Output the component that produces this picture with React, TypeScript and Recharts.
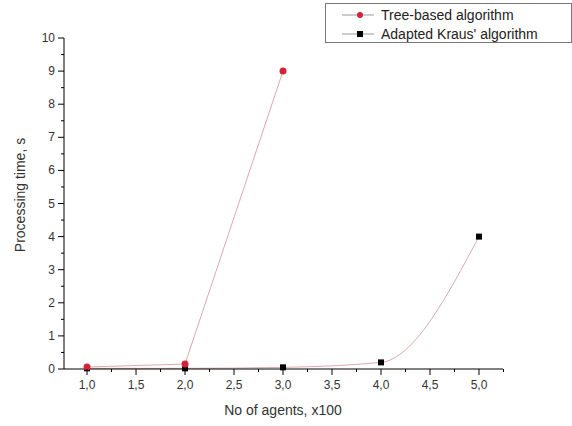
import { LineChart, Line, XAxis, YAxis, Label } from "recharts";

const agents = [1, 2, 3, 4, 5];
const treeTimes = [0.06, 0.15, 9.0, null, null];
const krausTimes = [0.02, 0.02, 0.05, 0.2, 4.0];

const xTicks = [1, 1.25, 1.5, 1.75, 2, 2.25, 2.5, 2.75, 3, 3.25, 3.5, 3.75, 4, 4.25, 4.5, 4.75, 5, 5.25];
const yTicks = [0, 0.5, 1, 1.5, 2, 2.5, 3, 3.5, 4, 4.5, 5, 5.5, 6, 6.5, 7, 7.5, 8, 8.5, 9, 9.5, 10];

const seriesNames = ["Tree-based algorithm", "Adapted Kraus' algorithm"];

const data = agents.map((a, i) => ({
  agents: a,
  tree: treeTimes[i],
  kraus: krausTimes[i],
}));

const FONT = "'Liberation Sans', Arial, sans-serif";
const LINE_COLOR = "#dcaaaa";
const RED = "#d3233a";

const XTick = (props: any) => {
  const { x, y, payload } = props;
  const v = payload.value;
  const major = Math.abs(v * 2 - Math.round(v * 2)) < 1e-6;
  return (
    <g>
      <line x1={x} x2={x} y1={y} y2={y + (major ? 6 : 3)} stroke="#000" />
      {major && (
        <text x={x} y={y + 16} textAnchor="middle" dominantBaseline="central" fontSize={12} fill="#333" fontFamily={FONT}>
          {v.toFixed(1).replace(".", ",")}
        </text>
      )}
    </g>
  );
};

const YTick = (props: any) => {
  const { x, y, payload } = props;
  const v = payload.value;
  const major = Number.isInteger(v);
  return (
    <g>
      <line x1={x - (major ? 6 : 3)} x2={x} y1={y} y2={y} stroke="#000" />
      {major && (
        <text x={x - 9} y={y} textAnchor="end" dominantBaseline="central" fontSize={12} fill="#333" fontFamily={FONT}>
          {v}
        </text>
      )}
    </g>
  );
};

const RedDot = (props: any) => {
  const { cx, cy, value } = props;
  if (value == null) return null;
  return <circle cx={cx} cy={cy} r={3.5} fill={RED} stroke="none" />;
};

const BlackSquare = (props: any) => {
  const { cx, cy, value } = props;
  if (value == null) return null;
  return <rect x={cx - 3} y={cy - 3} width={6} height={6} fill="#000" stroke="none" />;
};

const LegendBox = () => (
  <div
    style={{
      position: "absolute",
      left: 325,
      top: 3,
      width: 245,
      height: 38,
      border: "1px solid #777",
      background: "#fff",
      fontFamily: FONT,
      fontSize: 14,
      color: "#222",
    }}
  >
    {seriesNames.map((name, i) => (
      <div key={name} style={{ position: "absolute", left: 16, top: i === 0 ? 2 : 21, height: 18, display: "flex", alignItems: "center" }}>
        <svg width={34} height={10}>
          <line x1={0} x2={32} y1={5} y2={5} stroke="#999" />
          {i === 0 ? <circle cx={18} cy={5} r={3} fill={RED} /> : <rect x={15} y={2} width={6} height={6} fill="#000" />}
        </svg>
        <span style={{ marginLeft: 5 }}>{name}</span>
      </div>
    ))}
  </div>
);

export default function App() {
  return (
    <div style={{ position: "relative", width: 572, height: 426, background: "#fff" }}>
      <style>{`body{margin:0}`}</style>
      <LineChart width={572} height={426} data={data} margin={{ top: 38, right: 69, bottom: 0, left: 0 }}>
        <XAxis
          dataKey="agents"
          type="number"
          domain={[0.765, 5.245]}
          allowDataOverflow
          ticks={xTicks}
          interval={0}
          tick={<XTick />}
          tickLine={false}
          tickSize={0}
          tickMargin={0}
          height={57}
          stroke="#000"
        >
          <Label
            content={() => (
              <text x={283} y={410} textAnchor="middle" dominantBaseline="central" fontSize={14} fill="#333" fontFamily={FONT}>
                No of agents, x100
              </text>
            )}
          />
        </XAxis>
        <YAxis
          type="number"
          domain={[0, 10]}
          ticks={yTicks}
          interval={0}
          tick={<YTick />}
          tickLine={false}
          tickSize={0}
          tickMargin={0}
          width={64}
          stroke="#000"
        >
          <Label
            content={() => (
              <text
                x={20}
                y={195}
                transform="rotate(-90 20 195)"
                textAnchor="middle"
                dominantBaseline="central"
                fontSize={14}
                fill="#333"
                fontFamily={FONT}
              >
                Processing time, s
              </text>
            )}
          />
        </YAxis>
        <Line
          type="monotone"
          dataKey="kraus"
          stroke={LINE_COLOR}
          strokeWidth={1}
          dot={<BlackSquare />}
          activeDot={false}
          isAnimationActive={false}
        />
        <Line
          type="linear"
          dataKey="tree"
          stroke={LINE_COLOR}
          strokeWidth={1}
          dot={<RedDot />}
          activeDot={false}
          connectNulls={false}
          isAnimationActive={false}
        />
      </LineChart>
      <LegendBox />
    </div>
  );
}
